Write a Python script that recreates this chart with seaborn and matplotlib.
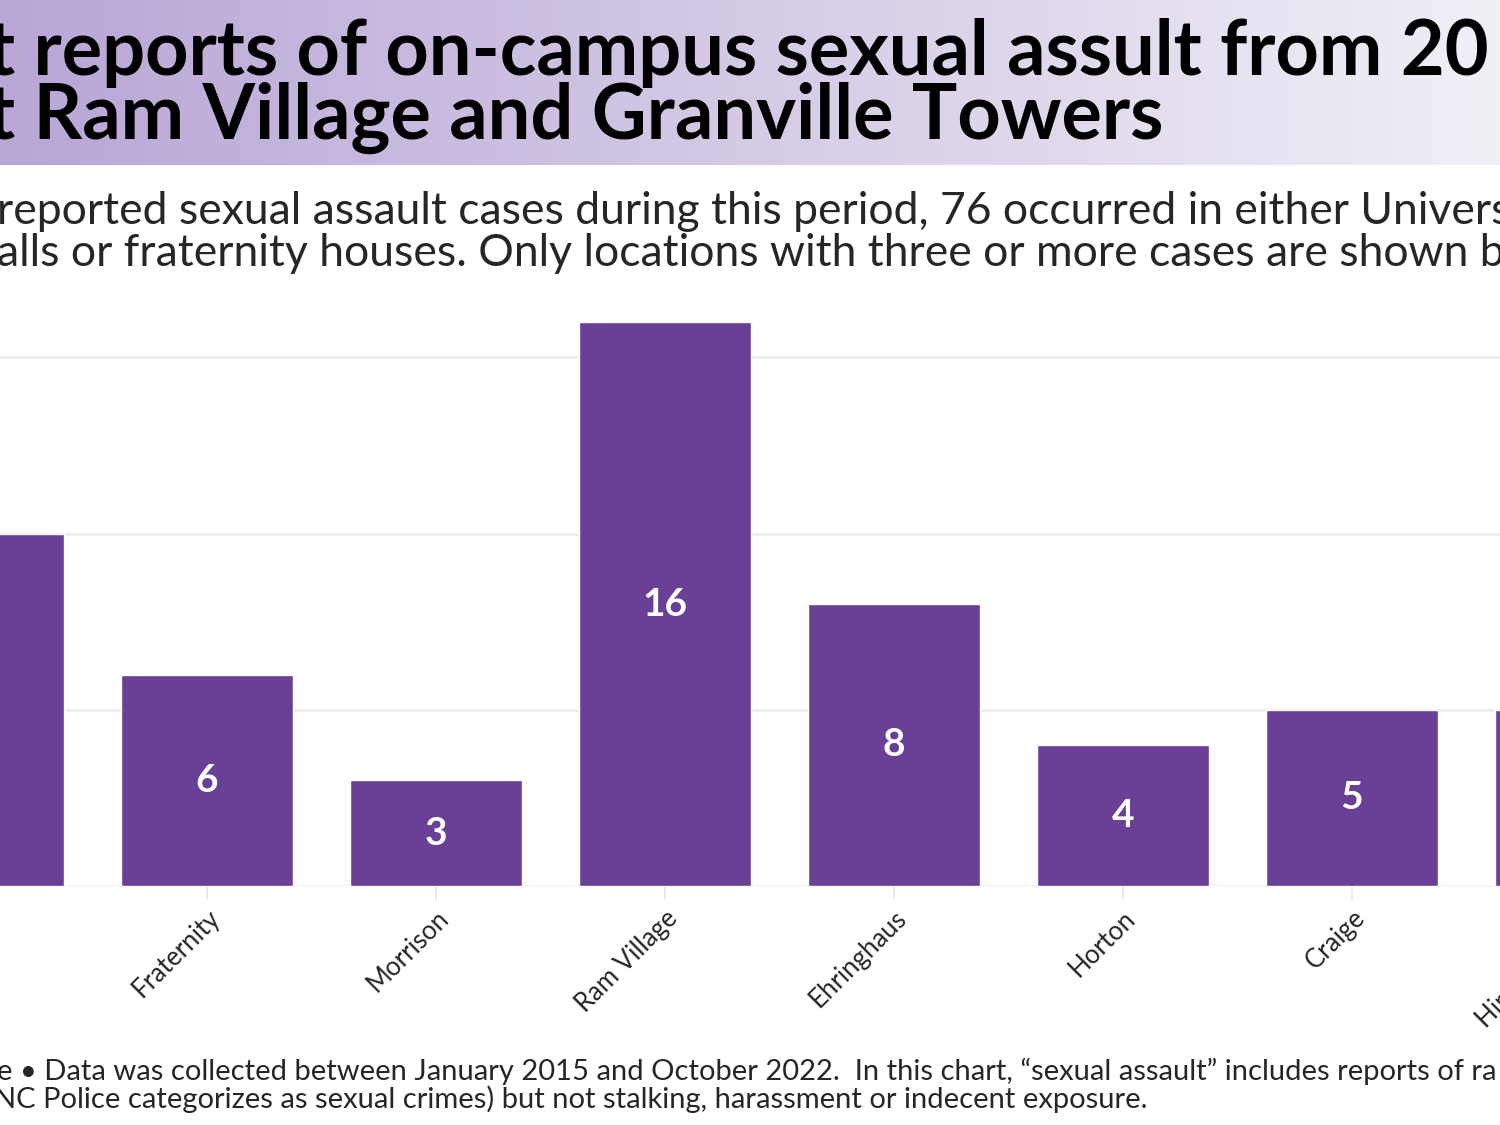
import numpy as np
import seaborn as sns
import matplotlib.pyplot as plt
from matplotlib.colors import LinearSegmentedColormap

# Reported on-campus sexual assault cases by location (Jan 2015 - Oct 2022)
locations = ['Granville Towers', 'Fraternity', 'Morrison', 'Ram Village',
             'Ehringhaus', 'Horton', 'Craige', 'Hinton James']
cases = [10, 6, 3, 16, 8, 4, 5, 5]

title_lines = ['t reports of on-campus sexual assult from 20',
               't Ram Village and Granville Towers']
subtitle_lines = ['reported sexual assault cases during this period, 76 occurred in either Univers',
                  'alls or fraternity houses. Only locations with three or more cases are shown b']
note_lines = ['e \u2022 Data was collected between January 2015 and October 2022.  In this chart, \u201csexual assault\u201d includes reports of ra',
              'NC Police categorizes as sexual crimes) but not stalking, harassment or indecent exposure.']

bar_color = '#6a3f96'

sns.set_theme(style='white')
plt.rcParams['font.family'] = ['Lato', 'DejaVu Sans']

fig = plt.figure(figsize=(15, 11.25), dpi=100)

# gradient header band
head = fig.add_axes([0, 1 - 165 / 1125, 1, 165 / 1125])
grad = LinearSegmentedColormap.from_list('head', ['#b8a6d6', '#f1eff6'])
head.imshow(np.linspace(0, 1, 256).reshape(1, -1), aspect='auto', cmap=grad,
            extent=[0, 1, 0, 1])
head.set_axis_off()

fig.text(-0.009, 1 - 75 / 1125, title_lines[0], fontsize=54.5, fontweight='bold',
         va='baseline', ha='left', color='black')
fig.text(-0.009, 1 - 139 / 1125, title_lines[1], fontsize=54.5, fontweight='bold',
         va='baseline', ha='left', color='black')

fig.text(-0.002, 1 - 224 / 1125, subtitle_lines[0], fontsize=32, va='baseline', ha='left')
fig.text(-0.002, 1 - 266 / 1125, subtitle_lines[1], fontsize=32, va='baseline', ha='left')

fig.text(-0.002, 1 - 1080 / 1125, note_lines[0], fontsize=21, va='baseline', ha='left')
fig.text(-0.004, 1 - 1108 / 1125, note_lines[1], fontsize=21, va='baseline', ha='left')

# chart axes run past both figure edges, like the cropped original
ax = fig.add_axes([-136.5 / 1500, 239 / 1125, 1832 / 1500, 17 * 35.25 / 1125])
sns.barplot(x=locations, y=cases, color=bar_color, saturation=1, width=0.75, ax=ax)
ax.set_xlim(-0.5, len(locations) - 0.5)
ax.set_ylim(0, 17)
ax.set_yticks([0, 5, 10, 15])
ax.yaxis.grid(True, color='#ebebeb', linewidth=1.8)
ax.set_axisbelow(True)
ax.tick_params(axis='y', left=False, labelleft=False)
ax.tick_params(axis='x', bottom=True, length=10, width=1.2, color='#e6e6e6', pad=4,
               labelsize=18.5)
plt.setp(ax.get_xticklabels(), rotation=45, ha='right', rotation_mode='anchor')
sns.despine(ax=ax, left=True, bottom=True)
ax.set_xlabel('')
ax.set_ylabel('')

for bars in ax.containers:
    ax.bar_label(bars, label_type='center', color='white', fontsize=28,
                 fontweight='bold')

fig.savefig('out.png', dpi=100)
